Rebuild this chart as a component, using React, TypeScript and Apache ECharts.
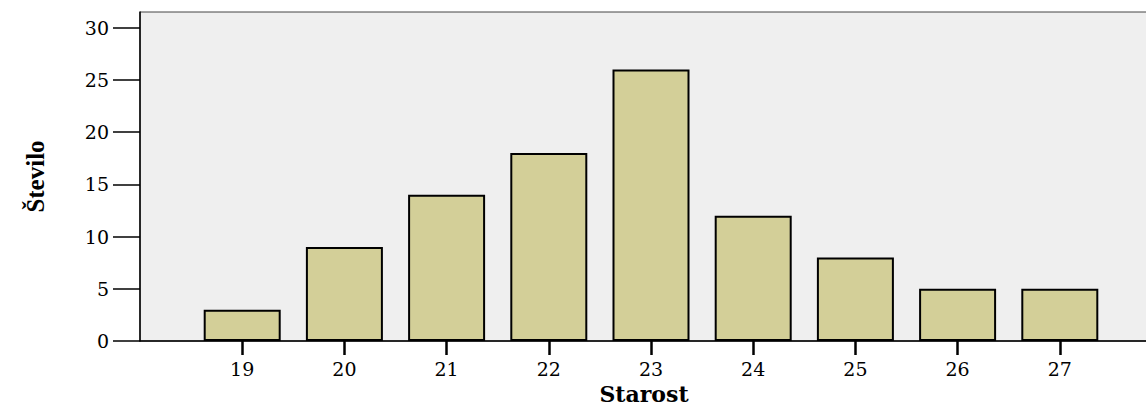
import React, { useEffect, useRef } from "react";
import * as echarts from "echarts";

const ages = [19, 20, 21, 22, 23, 24, 25, 26, 27];
const counts = [3, 9, 14, 18, 26, 12, 8, 5, 5];
const yTicks = [0, 5, 10, 15, 20, 25, 30];
const xTitle = "Starost";
const yTitle = "Število";

export default function App() {
  const ref = useRef<HTMLDivElement>(null);
  useEffect(() => {
    if (!ref.current) return;
    const chart = echarts.init(ref.current, null, { renderer: "svg" });
    const font = "'DejaVu Serif', serif";
    const font2 = "'Liberation Serif', 'Times New Roman', serif";
    chart.setOption({
      animation: false,
      grid: {
        left: 140,
        right: -2,
        top: 12,
        bottom: 66,
        outerBoundsMode: "none",
        containLabel: false,
        show: true,
        backgroundColor: "#efefef",
        borderColor: "#444",
        borderWidth: 1,
      },
      xAxis: {
        type: "value",
        min: 18,
        max: 27.863,
        interval: 1,
        splitLine: { show: false },
        axisLine: { show: true, lineStyle: { color: "#000", width: 1.5 } },
        axisTick: {
          show: true,
          length: 14,
          customValues: ages,
          lineStyle: { color: "#000", width: 2.5 },
        },
        axisLabel: {
          customValues: ages,
          margin: 18,
          fontFamily: font,
          fontSize: 19,
          color: "#000",
        },
        name: xTitle,
        nameLocation: "middle",
        nameGap: 42,
        nameTextStyle: {
          fontFamily: font,
          fontSize: 22,
          lineHeight: 22,
          fontWeight: "bold",
          color: "#000",
        },
      },
      yAxis: {
        type: "value",
        min: 0,
        max: 31.5,
        interval: 5,
        splitLine: { show: false },
        axisLine: { show: true, lineStyle: { color: "#000", width: 1.5 } },
        axisTick: {
          show: true,
          length: 27,
          customValues: yTicks,
          lineStyle: { color: "#000", width: 1.5 },
        },
        axisLabel: {
          customValues: yTicks,
          margin: 31,
          fontFamily: font,
          fontSize: 19,
          color: "#000",
        },
        name: yTitle,
        nameLocation: "middle",
        nameRotate: 90,
        nameGap: 92,
        nameTextStyle: {
          fontFamily: font2,
          fontSize: 25,
          fontWeight: "bold",
          color: "#000",
        },
      },
      series: [
        {
          type: "bar",
          data: ages.map((a, i) => [a, counts[i]]),
          barWidth: 77,
          itemStyle: {
            color: "#d3cf98",
            borderColor: "#000",
            borderWidth: 2,
          },
        },
      ],
    });
    return () => chart.dispose();
  }, []);
  return (
    <div
      ref={ref}
      style={{ position: "fixed", left: 0, top: 0, width: 1146, height: 407, background: "#fff" }}
    />
  );
}
